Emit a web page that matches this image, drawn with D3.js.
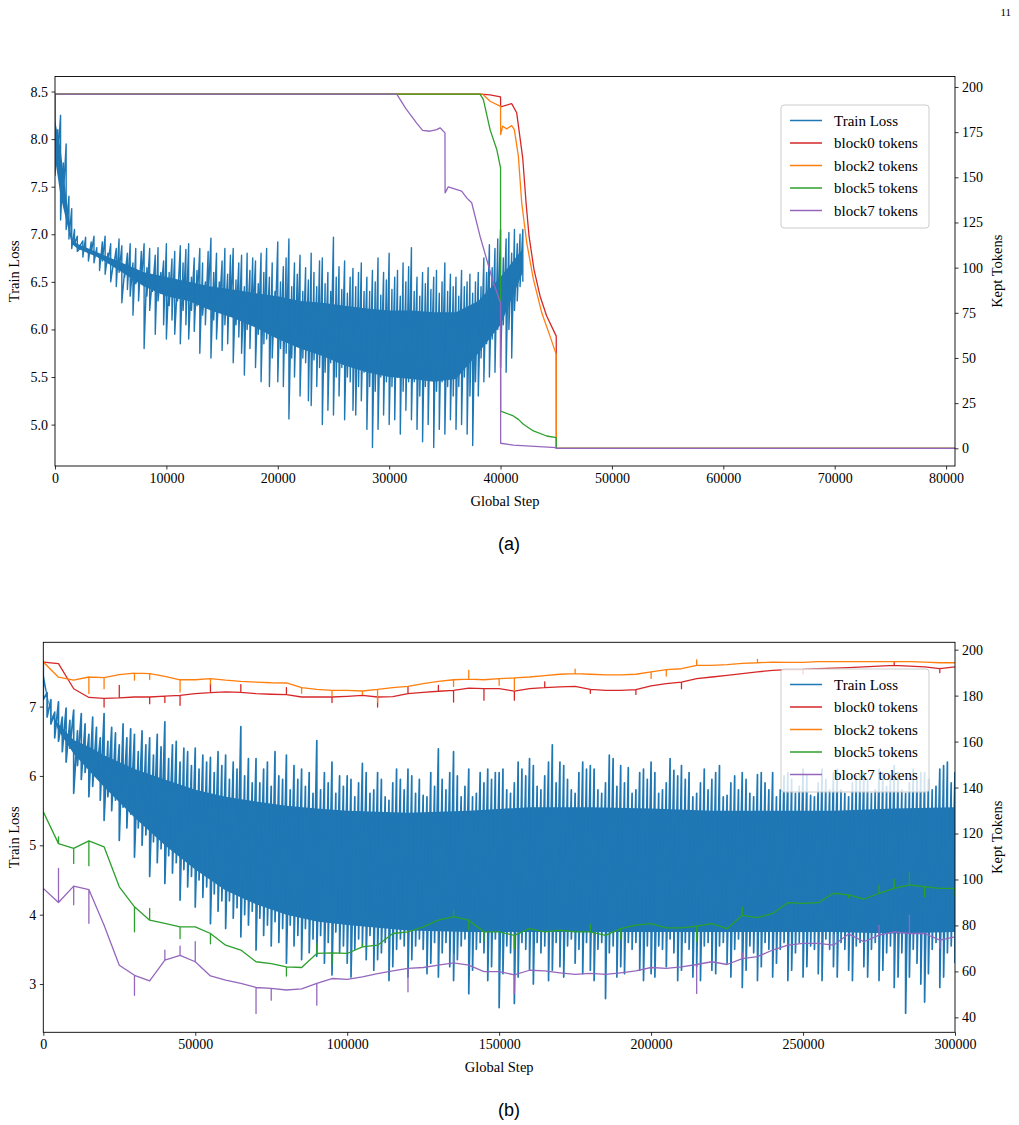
<!DOCTYPE html>
<html>
<head>
<meta charset="utf-8">
<script src="https://cdn.jsdelivr.net/npm/d3@7"></script>
<style>
  body { margin: 0; background: #fff; }
  text { font-family: "Liberation Serif", "Times New Roman", serif; }
</style>
</head>
<body>
<script>
// ---------- panel (a) data ----------
// loss logged every 250 steps from step 0: upper spike / lower spike per sample
var lossAEvery = 250;
var lossAHi = [
  8.47,8.1,8.25,7.75,7.95,7.4,7.27,7.05,
  6.98,6.85,6.93,6.97,6.8,6.92,6.98,6.86,
  6.75,6.92,6.98,6.8,6.9,6.7,6.85,6.95,
  6.88,6.62,6.8,6.9,6.7,6.85,6.58,6.82,
  6.9,6.65,6.85,6.55,6.78,6.86,6.6,6.72,
  6.9,6.6,6.74,6.82,6.5,6.88,6.7,6.84,
  6.9,6.55,6.75,6.62,6.85,6.7,6.5,6.82,
  6.96,6.6,6.8,6.5,6.72,6.85,6.58,6.78,
  6.85,6.52,6.7,6.78,6.45,6.8,6.62,6.75,
  6.72,6.48,6.8,6.6,6.85,6.55,6.7,6.4,
  6.92,6.5,6.66,6.75,6.95,6.45,6.7,6.58,
  6.78,6.4,6.65,6.52,6.8,6.6,6.45,6.72,
  6.75,6.48,6.6,6.4,6.97,6.55,6.66,6.42,
  6.72,6.38,6.55,6.64,6.45,6.6,6.7,6.4,
  6.55,6.4,6.62,6.5,6.75,6.36,6.6,6.52,
  6.8,6.42,6.55,6.62,6.35,6.7,6.5,6.66,
  6.86,6.4,6.55,6.35,6.6,6.48,6.65,6.42,
  6.55,6.62,6.38,6.5,6.7,6.4,6.58,6.45,
  6.55,6.35,6.62,6.45,6.5,6.58,6.38,6.5,
  6.6,6.45,6.75,6.6,6.89,6.65,6.85,6.95,
  7.05,6.75,6.95,7.02,6.8,7.05,6.9,7.0,
  7.05];
var lossALo = [
  7.62,7.8,7.15,7.4,7.05,6.95,6.85,6.9,
  6.82,6.88,6.76,6.85,6.72,6.8,6.7,6.78,
  6.62,6.72,6.58,6.7,6.5,6.66,6.45,6.6,
  6.28,6.55,6.42,6.35,6.15,6.48,6.3,6.5,
  5.8,6.35,6.2,6.4,5.95,6.3,6.38,6.05,
  5.9,6.25,6.1,5.95,6.3,5.85,6.2,6.05,
  5.9,6.2,5.98,6.25,5.75,6.15,6.05,6.3,
  5.7,6.1,5.9,6.2,5.78,6.05,5.85,6.15,
  5.65,6.05,5.92,5.75,5.52,6.0,5.8,6.1,
  5.6,5.95,5.45,5.85,5.9,5.4,5.7,5.98,
  5.45,5.8,5.4,5.75,5.06,5.7,5.5,5.85,
  5.3,5.7,5.65,5.25,5.2,5.68,5.4,5.6,
  5.0,5.55,5.15,5.65,5.1,5.5,5.3,5.6,
  5.05,5.5,5.45,5.15,5.1,5.4,5.25,5.55,
  4.95,5.4,4.76,5.35,4.95,5.5,5.1,5.45,
  5.0,5.4,5.05,5.5,4.9,5.35,5.15,5.45,
  5.05,5.45,4.95,5.3,4.82,5.4,5.0,5.5,
  4.76,5.35,4.95,5.45,4.9,5.4,5.05,5.3,
  4.95,5.4,5.0,5.5,4.9,5.3,4.78,5.45,
  5.3,5.7,5.45,5.85,5.5,5.9,5.55,6.0,
  5.6,6.05,5.55,6.0,5.7,6.2,6.3,6.45,
  6.5];
// dense middle of the loss band
var lossACoreSteps = [0,500,1000,1500,2000,4000,6000,8000,10000,12000,14000,16000,18000,20000,22000,24000,26000,28000,30000,32000,34000,36000,38000,40000,42000];
var lossACoreTop = [8.2,7.9,7.4,6.95,6.9,6.8,6.7,6.6,6.55,6.5,6.45,6.42,6.38,6.35,6.3,6.28,6.25,6.22,6.2,6.2,6.18,6.18,6.3,6.55,6.85];
var lossACoreBot = [7.8,7.4,7.15,6.9,6.85,6.75,6.6,6.45,6.35,6.3,6.2,6.12,6.02,5.9,5.8,5.72,5.62,5.55,5.5,5.48,5.45,5.48,5.75,6.05,6.6];

// kept tokens per block
var a0Steps = [0,38160,39060,40000,40010,41000,41450,41990,42290,42560,43000,43550,44140,45000,45010,80800];
var a0Vals  = [196,196,195.6,194.5,189,190.8,185.7,160.8,135.9,117.4,99,84.2,73.2,62.1,0,0];
var a2Steps = [0,38400,39060,40000,40010,40190,40550,41000,41240,41600,41900,42350,42950,43700,44440,45000,45010,80800];
var a2Vals  = [196,196,192.1,189.3,173.7,178.3,176.8,178.6,176.4,161.7,135.9,113.8,93.5,75,62.1,52,0,0];
var a5Steps = [0,38160,38460,39060,39660,40000,40010,41150,41600,42050,42950,44140,45000,45010,80800];
var a5Vals  = [196,196,193,176.4,165.4,155.2,20.6,17.9,16,13.3,9.6,6.8,5.9,0,0];
var a7Steps = [0,30680,31500,32470,33000,33670,34270,34570,35010,35020,35310,36510,36960,37410,38160,38760,39360,40000,40010,41150,45000,45010,80800];
var a7Vals  = [196,196,188,180,176,175.5,176.4,177.4,174.6,141.4,144.7,142.3,138.6,135.9,117.4,104.5,91.6,80.6,2.8,1.8,0.4,0,0];

// ---------- panel (b) data ----------
// loss logged every 1250 steps from step 0
var lossBEvery = 1250;
var lossBHi = [
  7.66,7.2,7.1,6.92,7.07,6.85,6.98,6.8,
  6.95,6.65,6.9,6.75,6.6,6.85,6.7,6.55,
  6.9,6.5,6.7,6.62,6.45,6.75,6.55,6.68,
  6.6,6.35,6.65,6.45,6.55,6.3,6.6,6.42,
  6.78,6.25,6.45,6.5,6.2,6.4,6.35,6.15,
  6.4,6.1,6.3,6.2,6.27,6.05,6.35,6.15,
  6.3,5.95,6.2,6.1,6.71,6.0,6.25,5.9,
  6.25,5.9,6.1,6.2,5.85,6.35,6.0,5.95,
  6.3,5.8,6.15,5.95,6.1,5.85,6.05,5.75,
  6.51,5.8,6.05,5.9,6.2,5.75,6.0,5.85,
  6.0,5.95,5.7,5.9,6.18,6.05,5.75,5.8,
  6.05,5.95,5.7,5.65,5.9,6.1,5.95,5.8,
  6.1,6.0,5.75,5.95,5.72,5.7,6.05,5.85,
  6.39,5.95,5.8,6.05,6.35,6.0,5.7,5.85,
  6.1,5.7,5.75,6.05,5.9,6.1,5.95,6.05,
  6.05,6.1,5.8,5.75,5.9,6.2,6.1,6.0,
  6.25,6.15,5.85,5.8,6.0,6.2,6.45,5.9,
  6.2,6.15,5.95,5.8,5.75,6.05,6.2,6.1,
  6.15,6.1,5.8,5.75,5.9,6.3,6.25,5.85,
  6.15,5.9,6.12,5.75,5.8,6.05,6.1,5.95,
  6.2,6.05,5.75,5.8,5.9,6.25,6.08,6.0,
  6.15,5.95,6.05,5.7,5.75,5.9,6.1,5.8,
  5.95,6.05,6.15,5.7,5.72,5.9,6.0,5.8,
  6.05,5.95,5.75,5.7,6.02,6.05,5.9,5.8,
  6.05,5.7,5.8,6.0,6.05,5.95,5.75,5.85,
  6.1,6.02,5.72,5.7,5.9,6.1,5.95,5.8,
  6.05,6.1,5.8,5.75,5.7,5.9,6.0,6.0,
  6.05,5.95,5.75,5.8,6.1,6.05,5.85,6.0,
  6.15,6.05,5.8,5.75,5.9,6.1,5.95,6.05,
  6.05,5.95,5.8,5.85,6.1,6.15,6.2,5.9,
  6.05];
var lossBLo = [
  7.1,6.85,6.75,6.55,6.5,6.35,6.2,6.4,
  5.75,6.15,5.95,6.05,5.7,5.85,6.0,5.65,
  5.36,5.7,5.5,5.65,5.07,5.55,5.25,5.45,
  4.83,5.25,5.0,5.15,4.55,5.05,4.75,4.95,
  4.45,4.85,4.6,4.75,4.21,4.65,4.4,4.55,
  4.11,4.5,4.25,4.4,3.87,4.3,4.05,4.2,
  3.8,4.2,3.95,4.1,3.68,4.0,3.85,4.05,
  3.49,3.95,3.7,3.85,3.55,3.9,3.6,3.8,
  3.3,3.85,3.55,3.7,3.35,3.8,3.45,3.65,
  3.4,3.7,3.3,3.6,3.13,3.75,3.45,3.55,
  3.3,3.1,3.5,3.65,3.55,3.35,3.7,3.2,
  3.35,3.45,3.6,3.05,3.25,3.5,3.65,3.55,
  3.1,3.35,3.55,3.65,3.5,3.15,3.3,3.6,
  3.1,3.45,3.6,3.25,3.05,3.35,3.55,3.65,
  2.86,3.2,3.5,3.6,3.45,3.05,3.25,3.65,
  2.66,3.15,3.55,3.45,2.72,3.1,3.6,3.5,
  3.2,3.0,3.6,3.45,3.55,3.05,3.2,3.6,
  3.25,3.1,3.55,3.65,3.3,3.5,3.15,3.6,
  3.2,3.05,3.5,3.6,2.79,3.45,3.55,3.1,
  3.25,3.15,3.6,3.5,3.6,3.2,3.05,3.55,
  3.15,3.1,3.55,3.5,3.25,3.65,3.45,3.05,
  3.2,3.6,3.5,3.1,3.25,3.05,3.55,3.6,
  3.2,3.15,3.55,3.6,3.3,3.1,3.5,3.65,
  2.95,3.2,3.55,3.45,3.05,3.25,3.6,3.5,
  3.1,3.3,3.5,3.6,3.05,3.2,3.45,3.6,
  3.1,3.25,3.55,3.5,3.15,3.05,3.65,3.5,
  3.25,3.1,3.6,3.5,3.2,3.05,3.55,3.6,
  3.25,3.1,3.5,3.6,3.05,3.2,3.45,3.55,
  2.95,3.1,3.45,2.58,3.1,3.5,3.3,3.0,
  2.74,3.15,3.5,3.6,2.95,3.1,3.45,3.55,
  3.3];
var lossBCoreSteps = [0,2500,5000,10000,15000,20000,30000,40000,50000,60000,70000,80000,90000,100000,120000,140000,160000,180000,200000,220000,240000,260000,280000,300000];
var lossBCoreTop = [7.5,6.9,6.75,6.52,6.42,6.3,6.1,5.95,5.8,5.7,5.63,5.57,5.53,5.5,5.47,5.5,5.55,5.55,5.53,5.5,5.5,5.5,5.53,5.55];
var lossBCoreBot = [7.35,6.9,6.65,6.32,6.08,5.84,5.4,5.0,4.65,4.35,4.15,4.0,3.9,3.85,3.77,3.75,3.75,3.75,3.75,3.75,3.75,3.75,3.73,3.75];

var tokBSteps = [0,5000,10000,15000,20000,25000,30000,35000,40000,45000,50000,55000,60000,65000,70000,75000,80000,85000,90000,95000,
  100000,105000,110000,115000,120000,125000,130000,135000,140000,145000,150000,155000,160000,165000,170000,175000,180000,185000,190000,195000,
  200000,205000,210000,215000,220000,225000,230000,235000,240000,245000,250000,255000,260000,265000,270000,275000,280000,285000,290000,295000,
  300000];
var b0Vals = [194.6,193.9,183,179.2,178.8,179.0,179.4,179.4,179.8,180.1, 180.9,181.3,181.6,181.4,180.9,180.6,180.4,179.4,179.4,179.4,
  179.7,180.1,179.4,179.6,180.9,181.4,181.9,182.3,183.3,183.0, 183.0,182.0,183.0,183.5,183.8,184.0,182.7,182.3,182.3,182.6,
  184.2,185.2,185.9,187.4,188.1,188.8,189.6,190.3,191.0,191.3, 191.4,191.7,192.0,192.2,192.5,192.8,193.2,192.8,192.5,191.7,
  192.5];
var b2Vals = [194.6,188,186.7,188.1,187.8,189.1,189.8,189.6,188.4,186.9, 186.9,187.4,186.7,186.2,185.9,185.6,185.5,183.5,182.7,182.3,
  182.3,182.0,182.7,183.5,184.0,185.2,186.2,186.9,187.2,186.9, 187.4,187.7,188.1,188.7,189.3,189.6,189.3,189.0,189.0,189.3,
  190.3,191.3,191.7,193.2,193.2,193.5,194.0,194.3,194.6,194.5, 194.5,194.8,194.8,194.8,194.8,194.8,194.8,194.8,194.6,194.3,
  194.3];
var b5Vals = [129.4,115.6,113.5,116.8,114.2,96.8,88.1,82.3,80.9,79.4, 79.4,76.5,71.4,69.3,64.2,63.4,62.0,61.7,67.8,68.1,
  67.8,70.7,71.4,76.5,77.2,79.4,82.3,83.8,82.3,77.2, 77.2,75.7,78.6,77.2,77.9,77.2,77.2,75.7,78.6,80.1,
  80.8,78.9,78.9,79.7,80.8,78.6,84.4,83.4,85.2,89.9, 89.6,89.9,94.0,93.3,91.4,94.0,96.1,97.6,96.9,96.1,
  96.1];
var b7Vals = [96.1,90,97.1,95.6,80.1,62.7,58.3,55.9,64.9,67.0, 64.2,58,56.2,54.8,53.0,52.6,51.9,52.4,54.8,56.9,
  56.5,57.6,59.0,60.2,61.3,61.7,62.7,63.7,62.7,59.9, 59.9,58.5,60.5,60.2,59.4,58.7,59.1,58.7,59.4,60.2,
  61.7,61.3,62.0,63.0,64.2,63.0,65.6,66.4,69.3,71.4, 72.2,72.2,71.4,76.3,72.9,75.8,77.2,76.5,76.5,73.6,
  75.0];
// short checkpoint spikes
var b0SpikeSteps = [20000,25000,35000,40000,45000,55000,65000,80000,95000,110000,120000,130000,135000,145000,155000,165000,180000,195000,210000,250000,280000,295000];
var b0SpikeVals  = [175,184.5,176.5,177,175.8,185.2,184.8,183.5,177,175,184,184.5,177.2,178,178,186,181,180.5,183,189.5,194.5,190];
var b2SpikeSteps = [15000,20000,30000,35000,45000,55000,85000,95000,105000,110000,135000,140000,150000,155000,175000,200000,205000,215000,235000];
var b2SpikeVals  = [180.9,183,186.7,187,181.6,185,181,180,180.5,177.2,184,191,184.5,182.5,191.5,187.5,188.5,195.5,195.8];
var b5SpikeSteps = [5000,10000,15000,30000,35000,45000,55000,80000,90000,95000,105000,135000,140000,145000,155000,180000,190000,215000,230000,265000,275000,280000,285000,290000,300000];
var b5SpikeVals  = [118.5,107,106,77.2,87.4,74.3,72,58,72,63,72,86.5,78,73,70,80.5,74,73,88,92,97.5,100,103.3,92.5,93];
var b7SpikeSteps = [5000,10000,15000,30000,40000,45000,50000,70000,75000,90000,120000,135000,155000,215000,230000,260000,275000,285000,295000];
var b7SpikeVals  = [104.8,89,80.9,49.6,69.2,71,72.9,41.7,47.5,45.3,51.1,67.5,50.4,50.4,68,76,80,84.5,70];

var seriesNames = ["Train Loss", "block0 tokens", "block2 tokens", "block5 tokens", "block7 tokens"];
var seriesColors = ["#1f77b4", "#d62728", "#ff7f0e", "#2ca02c", "#9467bd"];

// ---------- drawing ----------
var width = 1019, height = 1125;
var svg = d3.select("body").append("svg")
  .attr("width", width)
  .attr("height", height);

// page number
svg.append("text").attr("x", 1011).attr("y", 16).attr("text-anchor", "end")
  .attr("font-size", "11px").text("11");

function tokenPoints(steps, vals, spSteps, spVals) {
  var pts = [];
  steps.forEach(function (s, i) {
    pts.push([s, vals[i]]);
    var k = spSteps ? spSteps.indexOf(s) : -1;
    if (k >= 0) { pts.push([s, spVals[k]]); pts.push([s, vals[i]]); }
  });
  return pts;
}

function drawPanel(p) {
  var g = svg.append("g");
  var x = d3.scaleLinear().domain(p.xDomain).range([p.left, p.right]);
  var yL = d3.scaleLinear().domain(p.lossDomain).range([p.bottom, p.top]);
  var yR = d3.scaleLinear().domain(p.tokDomain).range([p.bottom, p.top]);

  var clipId = "clip" + p.id;
  svg.append("clipPath").attr("id", clipId).append("rect")
    .attr("x", p.left).attr("y", p.top)
    .attr("width", p.right - p.left).attr("height", p.bottom - p.top);
  var plot = g.append("g").attr("clip-path", "url(#" + clipId + ")");

  // loss: dense core + up/down spikes
  var area = d3.area()
    .x(function (d, i) { return x(p.coreSteps[i]); })
    .y0(function (d, i) { return yL(p.coreBot[i]); })
    .y1(function (d, i) { return yL(p.coreTop[i]); });
  plot.append("path").datum(p.coreSteps).attr("d", area)
    .attr("fill", seriesColors[0]);

  var zig = [];
  p.lossHi.forEach(function (h, i) {
    var s = i * p.lossEvery;
    zig.push([s, h]);
    zig.push([s, p.lossLo[i]]);
  });
  plot.append("path").datum(zig)
    .attr("d", d3.line().x(function (d) { return x(d[0]); }).y(function (d) { return yL(d[1]); }))
    .attr("fill", "none").attr("stroke", seriesColors[0]).attr("stroke-width", p.lossWidth)
    .attr("stroke-linejoin", "round");

  // token lines on the twin axis
  p.tokens.forEach(function (t, k) {
    plot.append("path").datum(tokenPoints(t.steps, t.vals, t.spSteps, t.spVals))
      .attr("d", d3.line().x(function (d) { return x(d[0]); }).y(function (d) { return yR(d[1]); }))
      .attr("fill", "none").attr("stroke", seriesColors[k + 1]).attr("stroke-width", 1.3)
      .attr("stroke-linejoin", "round");
  });

  // axes
  var xAxis = d3.axisBottom(x).tickValues(p.xTicks).tickFormat(d3.format("d"))
    .tickSize(3.5).tickSizeOuter(0).tickPadding(3.5);
  var lAxis = d3.axisLeft(yL).tickValues(p.lossTicks).tickFormat(d3.format(p.lossFmt))
    .tickSize(3.5).tickSizeOuter(0).tickPadding(3.5);
  var rAxis = d3.axisRight(yR).tickValues(p.tokTicks).tickFormat(d3.format("d"))
    .tickSize(3.5).tickSizeOuter(0).tickPadding(3.5);

  [[xAxis, "translate(0," + p.bottom + ")"], [lAxis, "translate(" + p.left + ",0)"], [rAxis, "translate(" + p.right + ",0)"]]
    .forEach(function (a) {
      var ag = g.append("g").attr("transform", a[1]).call(a[0]);
      ag.select(".domain").remove();
      ag.selectAll("line").attr("stroke", "#000").attr("stroke-width", 0.8);
      ag.selectAll("text").attr("font-size", "14px").attr("fill", "#000")
        .style("font-family", "'Liberation Serif', 'Times New Roman', serif");
    });

  // frame
  g.append("rect").attr("x", p.left).attr("y", p.top)
    .attr("width", p.right - p.left).attr("height", p.bottom - p.top)
    .attr("fill", "none").attr("stroke", "#000").attr("stroke-width", 0.9);

  // axis titles
  var midY = (p.top + p.bottom) / 2;
  g.append("text").attr("transform", "translate(19," + midY + ") rotate(-90)")
    .attr("text-anchor", "middle").attr("font-size", "14.5px").text("Train Loss");
  g.append("text").attr("transform", "translate(1002," + midY + ") rotate(-90)")
    .attr("text-anchor", "middle").attr("font-size", "14.5px").text("Kept Tokens");
  g.append("text").attr("x", (p.left + p.right) / 2).attr("y", p.bottom + 40)
    .attr("text-anchor", "middle").attr("font-size", "14.5px").text("Global Step");

  // legend
  var lg = g.append("g").attr("transform", "translate(781," + p.legendTop + ")");
  lg.append("rect").attr("width", 148).attr("height", 123).attr("rx", 3)
    .attr("fill", "#fff").attr("fill-opacity", 0.8)
    .attr("stroke", "#cccccc").attr("stroke-width", 1);
  seriesNames.forEach(function (name, i) {
    var yy = 15.5 + i * 22.5;
    lg.append("line").attr("x1", 9).attr("x2", 41).attr("y1", yy).attr("y2", yy)
      .attr("stroke", seriesColors[i]).attr("stroke-width", 1.5);
    lg.append("text").attr("x", 53).attr("y", yy + 5).attr("font-size", "15px").text(name);
  });

  // sub-figure caption
  svg.append("text").attr("x", 509).attr("y", p.bottom + 84)
    .attr("text-anchor", "middle").attr("font-size", "18px")
    .style("font-family", "'Liberation Sans', Arial, sans-serif")
    .text(p.caption);
}

drawPanel({
  id: "a", left: 55, right: 955, top: 76.5, bottom: 466,
  xDomain: [0, 80800], lossDomain: [4.565, 8.658], tokDomain: [-9.8, 205.8],
  xTicks: [0, 10000, 20000, 30000, 40000, 50000, 60000, 70000, 80000],
  lossTicks: [5.0, 5.5, 6.0, 6.5, 7.0, 7.5, 8.0, 8.5], lossFmt: ".1f",
  tokTicks: [0, 25, 50, 75, 100, 125, 150, 175, 200],
  lossEvery: lossAEvery, lossHi: lossAHi, lossLo: lossALo, lossWidth: 1.4,
  coreSteps: lossACoreSteps, coreTop: lossACoreTop, coreBot: lossACoreBot,
  tokens: [
    { steps: a0Steps, vals: a0Vals },
    { steps: a2Steps, vals: a2Vals },
    { steps: a5Steps, vals: a5Vals },
    { steps: a7Steps, vals: a7Vals }
  ],
  legendTop: 105, caption: "(a)"
});

drawPanel({
  id: "b", left: 43.3, right: 955, top: 642.3, bottom: 1032.3,
  xDomain: [0, 300000], lossDomain: [2.304, 7.927], tokDomain: [33.5, 203.2],
  xTicks: [0, 50000, 100000, 150000, 200000, 250000, 300000],
  lossTicks: [3, 4, 5, 6, 7], lossFmt: "d",
  tokTicks: [40, 60, 80, 100, 120, 140, 160, 180, 200],
  lossEvery: lossBEvery, lossHi: lossBHi, lossLo: lossBLo, lossWidth: 1.7,
  coreSteps: lossBCoreSteps, coreTop: lossBCoreTop, coreBot: lossBCoreBot,
  tokens: [
    { steps: tokBSteps, vals: b0Vals, spSteps: b0SpikeSteps, spVals: b0SpikeVals },
    { steps: tokBSteps, vals: b2Vals, spSteps: b2SpikeSteps, spVals: b2SpikeVals },
    { steps: tokBSteps, vals: b5Vals, spSteps: b5SpikeSteps, spVals: b5SpikeVals },
    { steps: tokBSteps, vals: b7Vals, spSteps: b7SpikeSteps, spVals: b7SpikeVals }
  ],
  legendTop: 669, caption: "(b)"
});
</script>
</body>
</html>
